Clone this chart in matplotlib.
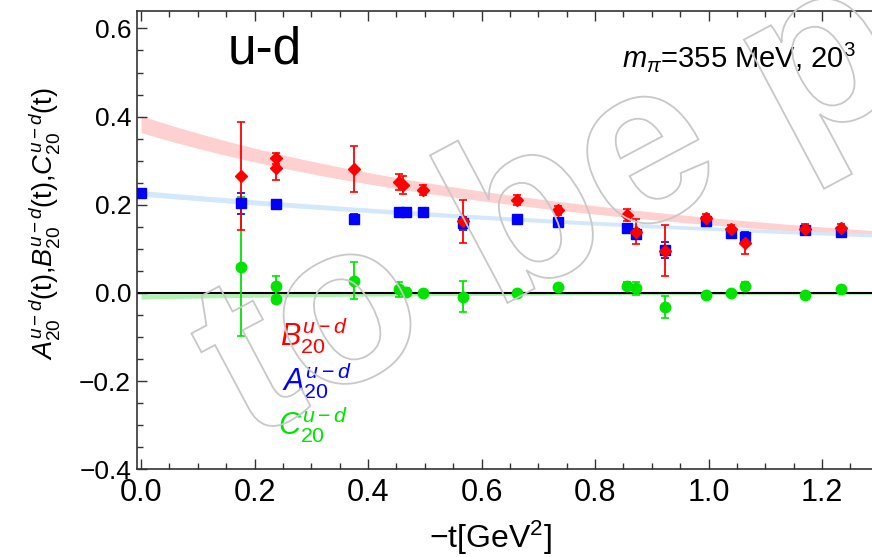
import matplotlib
matplotlib.use("Agg")
import matplotlib.pyplot as plt
import numpy as np
from matplotlib.ticker import MultipleLocator, FuncFormatter
from matplotlib.textpath import TextPath
from matplotlib.patches import PathPatch
from matplotlib.font_manager import FontProperties
from matplotlib.transforms import Affine2D, IdentityTransform

plt.rcParams['font.family'] = ['Liberation Sans', 'DejaVu Sans']
plt.rcParams['mathtext.fontset'] = 'custom'
plt.rcParams['mathtext.rm'] = 'Liberation Sans'
plt.rcParams['mathtext.it'] = 'Liberation Sans:italic'

# --- lattice data, u-d flavour combination ---
tA = [0.0, 0.177, 0.238, 0.375, 0.455, 0.467, 0.497, 0.567, 0.663, 0.735,
      0.857, 0.873, 0.923, 0.995, 1.040, 1.064, 1.170, 1.234]
A20 = [0.227, 0.203, 0.201, 0.168, 0.184, 0.183, 0.184, 0.158, 0.168, 0.162,
       0.147, 0.134, 0.098, 0.164, 0.135, 0.126, 0.143, 0.139]
A20_err = [0.006, 0.023, 0.006, 0.012, 0.006, 0.006, 0.006, 0.015, 0.007, 0.007,
           0.010, 0.012, 0.018, 0.008, 0.010, 0.012, 0.010, 0.010]

tB = [0.177, 0.238, 0.238, 0.375, 0.455, 0.462, 0.497, 0.567, 0.663, 0.735,
      0.857, 0.873, 0.923, 0.995, 1.040, 1.064, 1.170, 1.234]
B20 = [0.265, 0.305, 0.283, 0.281, 0.251, 0.245, 0.234, 0.163, 0.211, 0.188,
       0.177, 0.139, 0.096, 0.169, 0.144, 0.113, 0.144, 0.147]
B20_err = [0.122, 0.012, 0.026, 0.052, 0.018, 0.020, 0.012, 0.049, 0.012, 0.010,
           0.014, 0.028, 0.058, 0.010, 0.010, 0.024, 0.013, 0.010]

tC = [0.177, 0.238, 0.238, 0.375, 0.455, 0.467, 0.497, 0.567, 0.663, 0.735,
      0.857, 0.873, 0.923, 0.995, 1.040, 1.064, 1.170, 1.234]
C20 = [0.060, 0.016, -0.014, 0.028, 0.008, 0.003, -0.001, -0.008, 0.000, 0.013,
       0.016, 0.011, -0.032, -0.005, -0.001, 0.016, -0.005, 0.008]
C20_err = [0.158, 0.023, 0.008, 0.042, 0.016, 0.008, 0.006, 0.035, 0.006, 0.006,
           0.008, 0.015, 0.025, 0.006, 0.006, 0.010, 0.006, 0.006]

# dipole fits: (value at t=0, mass^2 [GeV^2], band half-width relative to value)
fitA = (0.226, 4.1, 0.028)
fitB = (0.383, 1.88, 0.05)
fitC = (-0.008, 1.0, 0.75)

red, blue, green = '#ff0000', '#0000ff', '#00e400'

fig = plt.figure(figsize=(8.72, 5.57), dpi=100)
W, H = 872.0, 557.0
x0px, x1px, ytop, ybot = 136.7, 880.0, 10.7, 469.4
ax = fig.add_axes([x0px / W, 1 - ybot / H, (x1px - x0px) / W, (ybot - ytop) / H])

tt = np.linspace(0, 1.4, 200)
for (v0, m2, rel), col in [(fitB, '#ffd0d0'), (fitA, '#d4e8fb'), (fitC, '#b0f2b0')]:
    f = v0 / (1 + tt / m2) ** 2
    hw = abs(f) * rel
    ax.fill_between(tt, f - hw, f + hw, color=col, lw=0, zorder=1)

ax.axhline(0, color='black', lw=1.5, zorder=2)

eb = dict(capsize=3, elinewidth=1.3, capthick=1.2, zorder=3, ls='none')
ax.errorbar(tC, C20, yerr=C20_err, fmt='o', color=green, ms=7.5, **eb)
ax.errorbar(tA, A20, yerr=A20_err, fmt='s', color=blue, ms=7.5, **eb)
ax.errorbar(tB, B20, yerr=B20_err, fmt='D', color=red, ms=6.5, **eb)

ax.set_xlim((x0px - 141) / 567.5, (x1px - 141) / 567.5)
ax.set_ylim(-0.4, (293 - ytop) / 441)
ax.xaxis.set_major_locator(MultipleLocator(0.2))
ax.xaxis.set_minor_locator(MultipleLocator(0.05))
ax.yaxis.set_major_locator(MultipleLocator(0.2))
ax.yaxis.set_minor_locator(MultipleLocator(0.05))
fmt = FuncFormatter(lambda v, _: f"{v:.1f}".replace('-', '\u2212'))
ax.xaxis.set_major_formatter(fmt)
ax.yaxis.set_major_formatter(fmt)
ax.tick_params(which='both', direction='in', top=True, right=False, width=1, color='#333333')
ax.tick_params(which='major', length=7)
ax.tick_params(which='minor', length=4)
ax.tick_params(axis='x', labelsize=22, pad=6)
ax.tick_params(axis='y', labelsize=19, pad=4)
ax.spines['right'].set_visible(False)
for s in ['left', 'bottom', 'top']:
    ax.spines[s].set_linewidth(1.2)
    ax.spines[s].set_color('#333333')

fig.text(228 / W, 1 - 50 / H, 'u-d', fontsize=37, va='center', ha='left')
fig.text(856 / W, 1 - 57 / H, r'$m_\pi$=355 MeV, 20$^3$', fontsize=21, va='center', ha='right')

fig.text(280 / W, 1 - 336 / H, r'$B_{20}^{u-d}$', fontsize=22, color=red, va='center')
fig.text(282 / W, 1 - 381 / H, r'$A_{20}^{u-d}$', fontsize=22, color=blue, va='center')
fig.text(278 / W, 1 - 425 / H, r'$C_{20}^{u-d}$', fontsize=22, color=green, va='center')

fig.text(44 / W, 1 - 224 / H,
         r'$A_{20}^{u-d}$(t),$B_{20}^{u-d}$(t),$C_{20}^{u-d}$(t)',
         fontsize=19.5, rotation=90, va='center', ha='center')
fig.text(490 / W, 1 - 538 / H, '\u2212t[GeV$^2$]', fontsize=23, va='center', ha='center')

# outlined watermark across the panel
tp = TextPath((0, 0), 'to be published', size=230,
              prop=FontProperties(family='Liberation Sans', weight='bold'))
tr = Affine2D().rotate_deg(28).translate(246, 115)
wm = PathPatch(tr.transform_path(tp), facecolor='none', edgecolor='#c8c8c8', lw=1.3,
               transform=IdentityTransform(), zorder=10)
fig.add_artist(wm)

fig.savefig('out.png', dpi=100)
